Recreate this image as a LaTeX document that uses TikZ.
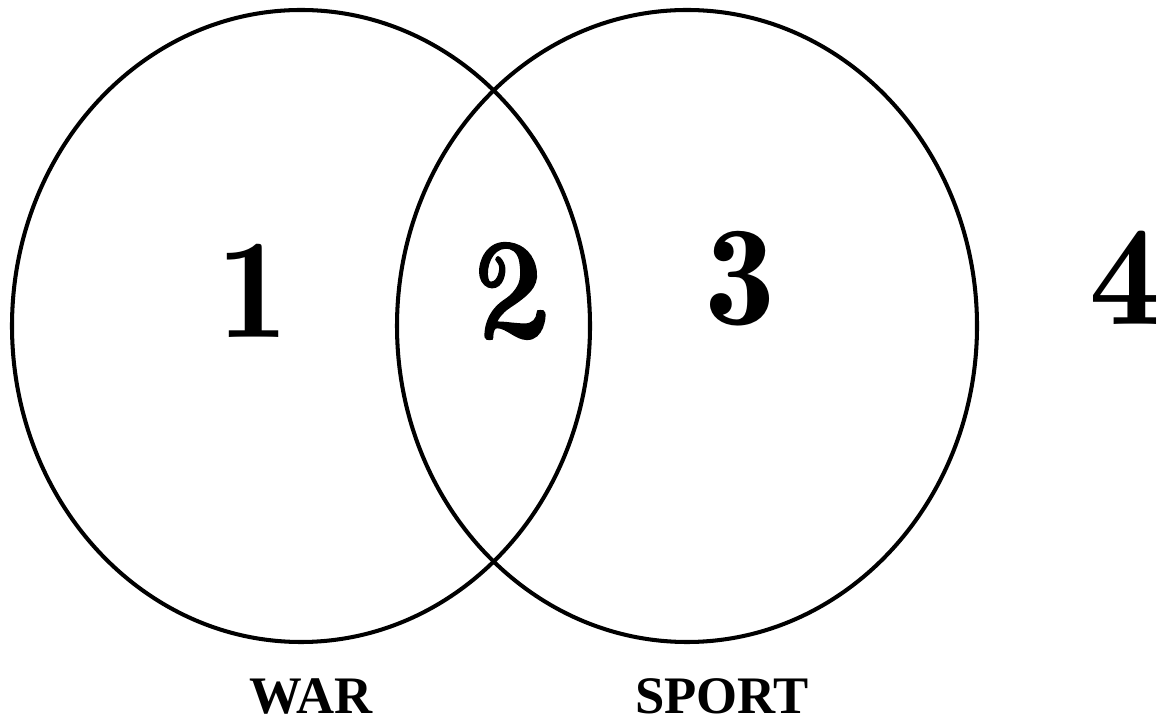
\documentclass[tikz,border=0pt]{standalone}
\usepackage{fontspec}
\newfontfamily\labelfont{Liberation Serif}
\newfontfamily\digitfont{lmromandemi10-regular.otf}
\newfontfamily\twofont{lmroman10-bolditalic.otf}[FakeBold=1.2]
\usetikzlibrary{positioning}

\begin{document}
\begin{tikzpicture}[
  region/.style={font=\fontsize{81}{81}\selectfont\digitfont, inner sep=0pt},
  setname/.style={font=\fontsize{30}{30}\selectfont\labelfont\bfseries, inner sep=0pt, anchor=base},
  setline/.style={draw=black, line width=2.3pt}
]
\useasboundingbox (0,0) rectangle (23.22,14.44);

% the two sets
\draw[setline] (6.02,7.92) ellipse [x radius=5.78, y radius=6.32];
\draw[setline] (13.74,7.92) ellipse [x radius=5.80, y radius=6.32];

\node[region] (one) at (5.06,8.62) {1};
\node[region, font=\fontsize{81}{81}\selectfont\twofont\bfseries,
  xslant=-0.25, xscale=0.9, transform shape] (two) at (10.0,8.62) {2};
\node[region] (three) at (14.8,8.86) {3};
\node[region] (four) at (22.5,8.88) {4};

\node[setname] (war) at (6.22,0.18) {WAR};
\node[setname] (sport) at (14.44,0.18) {SPORT};
\end{tikzpicture}
\end{document}
